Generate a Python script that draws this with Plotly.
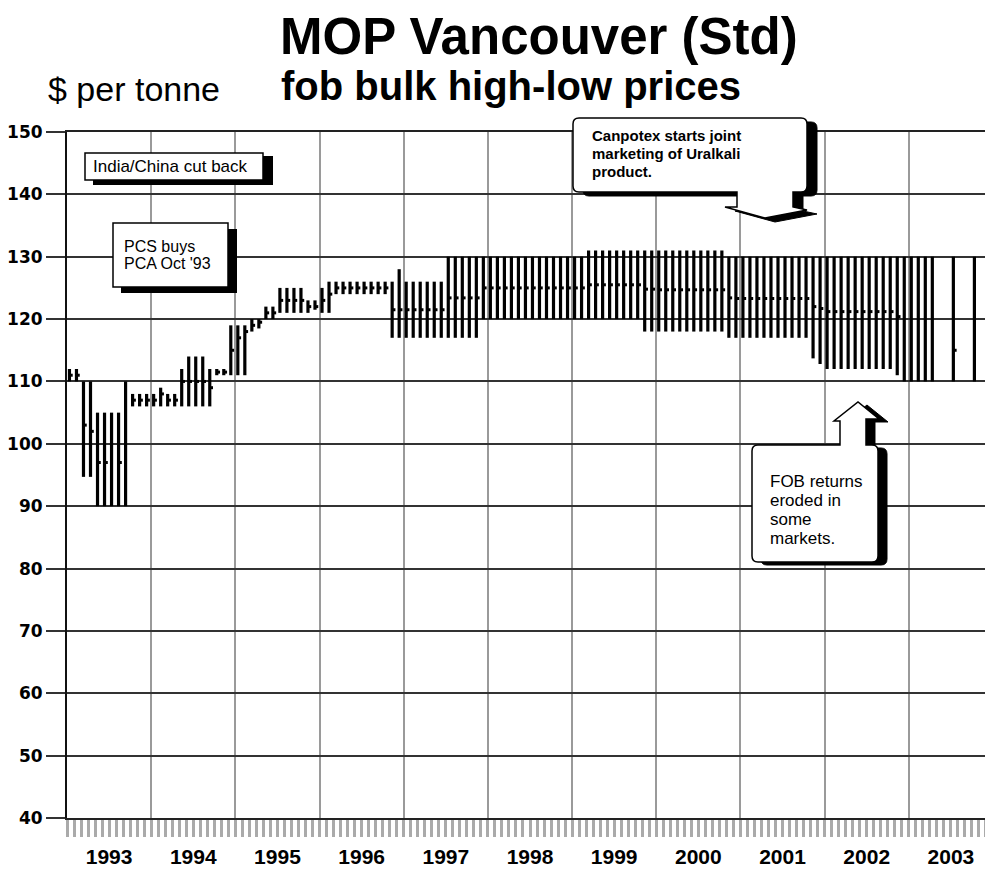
import plotly.graph_objects as go

# ---------------- data (monthly high / low / mid, Jan 1993 .. Dec 2003) ----------------
years = [1993, 1994, 1995, 1996, 1997, 1998, 1999, 2000, 2001, 2002, 2003]
year_labels = ["1993", "1994", "1995", "1996", "1997", "1998", "1999", "2000", "2001", "2002", "2003"]
y_ticks = [40, 50, 60, 70, 80, 90, 100, 110, 120, 130, 140, 150]

high = [
    112, 112, 110, 110, 105, 105, 105, 105, 110, 108, 108, 108,   # 1993
    108, 109, 108, 108, 112, 114, 114, 114, 112, 112, 112, 119,   # 1994
    119, 119, 120, 120, 122, 122, 125, 125, 125, 125, 123, 123,   # 1995
    125, 126, 126, 126, 126, 126, 126, 126, 126, 126, 126, 128,   # 1996
    126, 126, 126, 126, 126, 126, 130, 130, 130, 130, 130, 130,   # 1997
    130, 130, 130, 130, 130, 130, 130, 130, 130, 130, 130, 130,   # 1998
    130, 130, 131, 131, 131, 131, 131, 131, 131, 131, 131, 131,   # 1999
    131, 131, 131, 131, 131, 131, 131, 131, 131, 131, 130, 130,   # 2000
    130, 130, 130, 130, 130, 130, 130, 130, 130, 130, 130, 130,   # 2001
    130, 130, 130, 130, 130, 130, 130, 130, 130, 130, 130, 130,   # 2002
    130, 130, 130, 130, None, None, 130, None, None, 130, None, None,  # 2003
]
low = [
    110, 110, 94.7, 94.7, 90, 90, 90, 90, 90, 106, 106, 106,
    106, 106, 106, 106, 106, 106, 106, 106, 106, 111, 111, 111,
    111, 111, 118, 118.5, 120, 120, 121, 121, 121, 121, 121, 121.5,
    121, 121, 124, 124, 124, 124, 124, 124, 124, 124, 117, 117,
    117, 117, 117, 117, 117, 117, 117, 117, 117, 117, 117, 120,
    120, 120, 120, 120, 120, 120, 120, 120, 120, 120, 120, 120,
    120, 120, 120, 120, 120, 120, 120, 120, 120, 120, 118, 118,
    118, 118, 118, 118, 118, 118, 118, 118, 118, 118, 117, 117,
    117, 117, 117, 117, 117, 117, 117, 117, 117, 117, 113.7, 112.8,
    112, 112, 112, 112, 112, 112, 112, 112, 112, 112, 111, 110,
    110, 110, 110, 110, None, None, 110, None, None, 110, None, None,
]
mid = [
    111, 111, 103, 102, 97, 97, None, 97, None, 107, 107, 107,
    107, 108, 107, 107, 110, 110, 110, 110, 109, 111.5, 111.5, 115,
    117, 118, 119, 119.5, 121, 121, 123, 123, 123, 123, 122, 122,
    123, 124, 125, 125, 125, 125, 125, 125, 125, 125, 121.5, 121.5,
    121.5, 121.5, 121.5, 121.5, 121.5, 121.5, 123.4, 123.4, 123.4, 123.4, 123.4, 125,
    125, 125, 125, 125, 125, 125, 125, 125, 125, 125, 125, 125,
    125, 125, 125.5, 125.5, 125.5, 125.5, 125.5, 125.5, 125.5, 125.5, 124.8, 124.8,
    124.7, 124.7, 124.7, 124.7, 124.7, 124.7, 124.7, 124.7, 124.7, 124.7, 123.4, 123.3,
    123.3, 123.3, 123.3, 123.3, 123.3, 123.3, 123.3, 123.3, 123.3, 123.3, 122, 121.7,
    121.2, 121.2, 121.2, 121.2, 121.2, 121.2, 121.2, 121.2, 121.2, 121.2, 120.4, None,
    None, None, None, None, None, None, 115, None, None, None, None, None,
]

# ---------------- geometry helpers ----------------
# the page body adds an 8px margin, so the figure is 8px smaller than the window
W, H = 985, 864
ML, MR, MT, MB = 59, 0, 124, 54
SCR_L, SCR_T = 67, 132            # plot-area corner in window pixels
PW, PH = W - ML - MR, H - MT - MB
FONT = "Liberation Sans, Arial, Helvetica, sans-serif"


def fx(px):
    return (px - SCR_L) / PW


def fy(py):
    return 1 - (py - SCR_T) / PH


month_x = [years[i // 12] + (i % 12 + 0.35) / 12 for i in range(len(high))]

bar_x, bar_len, bar_base = [], [], []
for x, h, l in zip(month_x, high, low):
    if h is not None and l is not None:
        bar_x.append(x)
        bar_len.append(h - l)
        bar_base.append(l)

mid_x, mid_y = [], []
for x, m in zip(month_x, mid):
    if m is not None:
        mid_x.append(x + 0.021)
        mid_y.append(m)

fig = go.Figure()
fig.add_trace(go.Bar(x=bar_x, y=bar_len, base=bar_base, width=3.2 / 84.2,
                     marker=dict(color="black", line=dict(width=0)), hoverinfo="skip"))
fig.add_trace(go.Scatter(x=mid_x, y=mid_y, xaxis="x2", mode="markers",
                         marker=dict(symbol="square", size=3, color="black", line=dict(width=0)),
                         hoverinfo="skip"))

fig.update_layout(
    width=W, height=H,
    margin=dict(l=ML, r=MR, t=MT, b=MB, pad=0, autoexpand=False),
    paper_bgcolor="white", plot_bgcolor="white", showlegend=False,
    font=dict(family=FONT, color="black"),
    xaxis=dict(range=[1993, 2004], tickmode="linear", tick0=1993, dtick=1, showticklabels=False,
               showgrid=True, gridcolor="#9a9a9a", gridwidth=2, automargin=False,
               ticks="outside", ticklen=17, tickwidth=2.5, tickcolor="#aaaaaa",
               minor=dict(tickmode="linear", tick0=1993, dtick=1 / 12, ticks="outside", ticklen=17,
                          tickwidth=2.5, tickcolor="#aaaaaa", showgrid=False),
               showline=True, linecolor="#222222", linewidth=2, mirror=True, zeroline=False),
    xaxis2=dict(range=[1993, 2004], overlaying="x", anchor="y", side="bottom", automargin=False,
                tickmode="array", tickvals=[y + 0.5 for y in years], ticktext=year_labels,
                ticks="outside", ticklen=20, tickcolor="rgba(0,0,0,0)", showgrid=False,
                showline=False, zeroline=False,
                tickfont=dict(family=FONT, size=21, weight="bold", color="black")),
    yaxis=dict(range=[40, 150], tickmode="array", tickvals=y_ticks, automargin=False,
               showgrid=True, gridcolor="#333333", gridwidth=2,
               ticks="outside", ticklen=19, tickwidth=2, tickcolor="#333333",
               showline=True, linecolor="#111111", linewidth=2, zeroline=False,
               tickfont=dict(family="DejaVu Sans", size=17, weight="bold", color="black")),
)


def pp(px, py):
    return f"{fx(px):.5f},{fy(py):.5f}"


def build(segs, dx=0, dy=0):
    out = []
    for s in segs:
        cmd = s[0]
        coords = s[1:]
        parts = [pp(coords[i] + dx, coords[i + 1] + dy) for i in range(0, len(coords), 2)]
        out.append(cmd + " " + " ".join(parts))
    return " ".join(out) + " Z"


def add_path(segs, dx=0, dy=0, fill="white", line="black", lw=1.5):
    fig.add_shape(type="path", path=build(segs, dx, dy), xref="paper", yref="paper",
                  fillcolor=fill, line=dict(color=line, width=lw), layer="above")


def add_rect(x0, y0, x1, y1, fill="white", line="black", lw=1.5):
    fig.add_shape(type="rect", x0=fx(x0), x1=fx(x1), y0=fy(y1), y1=fy(y0),
                  xref="paper", yref="paper", fillcolor=fill,
                  line=dict(color=line, width=lw), layer="above")


def txt(s, px, py, size, bold=False, anchor="left"):
    fig.add_annotation(text=s, x=fx(px), y=fy(py), xref="paper", yref="paper",
                       xanchor=anchor, yanchor="middle", showarrow=False,
                       font=dict(family=FONT, size=size, color="black",
                                 weight="bold" if bold else "normal"))


# India/China box
add_rect(93, 156, 273, 185, fill="black", line="black", lw=0)
add_rect(85, 153, 263, 180)
txt("India/China cut back", 91, 167, 17)

# PCS box
add_rect(121, 229, 237, 293, fill="black", line="black", lw=0)
add_rect(113, 223, 228, 287)
txt("PCS buys", 122, 246, 16)
txt("PCA Oct '93", 122, 263, 16)

# Canpotex callout (arrow pointing down)
can = [("M", 579, 118), ("L", 801, 118), ("Q", 807, 118, 807, 124), ("L", 807, 186),
       ("Q", 807, 192, 801, 192), ("L", 793, 192), ("L", 793, 207), ("L", 807, 210),
       ("L", 765, 218), ("L", 725, 207), ("L", 737, 207), ("L", 737, 192), ("L", 579, 192),
       ("Q", 573, 192, 573, 186), ("L", 573, 124), ("Q", 573, 118, 579, 118)]
add_path(can, 10, 4, fill="black", line="black", lw=1)
add_path(can)
txt("Canpotex starts joint", 590, 135, 15, bold=True)
txt("marketing of Uralkali", 590, 153, 15, bold=True)
txt("product.", 590, 172, 15, bold=True)

# FOB callout (arrow pointing up)
fob = [("M", 758, 445), ("L", 840, 445), ("L", 840, 421), ("L", 834, 421), ("L", 858, 402),
       ("L", 879, 419), ("L", 866, 419), ("L", 866, 445), ("L", 872, 445),
       ("Q", 878, 445, 878, 451), ("L", 878, 556), ("Q", 878, 562, 872, 562), ("L", 758, 562),
       ("Q", 752, 562, 752, 556), ("L", 752, 451), ("Q", 752, 445, 758, 445)]
add_path(fob, 9, 3, fill="black", line="black", lw=1)
add_path(fob)
txt("FOB returns", 768, 481, 17)
txt("eroded in", 768, 500, 17)
txt("some", 768, 519, 17)
txt("markets.", 768, 538, 17)

# Titles
txt("MOP Vancouver (Std)", 539, 37, 51, bold=True, anchor="center")
txt("fob bulk high-low prices", 511, 86, 40, bold=True, anchor="center")
txt("$ per tonne", 46, 89, 34)

fig.write_html("out.html")
